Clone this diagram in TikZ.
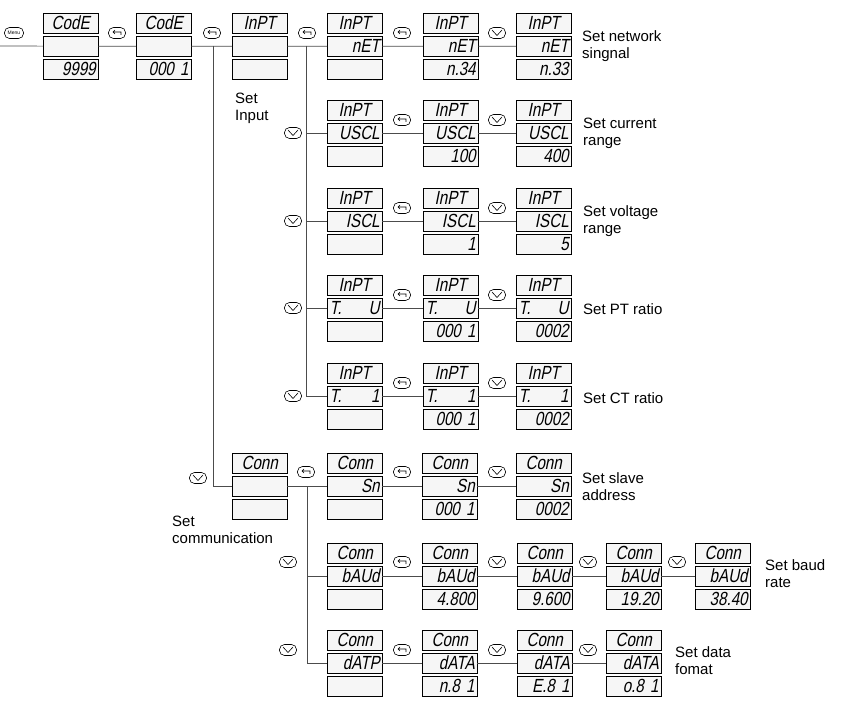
\documentclass[tikz,border=0pt]{standalone}
\usepackage{fontspec}
\setmainfont{Liberation Sans}
\newfontfamily\segf{Liberation Sans}[FakeSlant=0.2,FakeStretch=0.8]
\begin{document}
\begin{tikzpicture}[x=1pt,y=-1pt,
  seg/.style={draw=black,fill=gray!7,minimum width=55pt,minimum height=20pt,inner sep=1.5pt,anchor=north west,font=\fontsize{19}{19}\selectfont\segf},
  segt/.style={seg,text width=50pt,align=center},
  segr/.style={seg,text width=50pt,align=right},
  lbl/.style={anchor=west,align=left,font=\fontsize{15}{17}\selectfont,inner sep=0pt},
  ln/.style={line width=0.7pt,gray!60!black},
  key/.style={draw,rounded corners=5pt,minimum width=17pt,minimum height=11pt,inner sep=0pt,line width=0.6pt}]
\useasboundingbox (0,0) rectangle (841,708);
\newcommand\disp[6]{%
  \node[segt] (#1-t) at (#2,#3) {#4};
  \node[segr] (#1-m) at (#2,#3+23) {#5};
  \node[segr] (#1-b) at (#2,#3+46) {#6};}
\newcommand\entk[3]{\node[key] (#1) at (#2,#3) {};
  \draw[line width=0.6pt] ([xshift=4pt,yshift=-2pt]#1.center) -- ++(0,3pt) -- ++(-8pt,0) ++(2pt,-2pt) -- ++(-2pt,2pt) -- ++(2pt,2pt);}
\newcommand\downk[3]{\node[key] (#1) at (#2,#3) {};
  \draw[line width=0.6pt] ([xshift=-5pt,yshift=3pt]#1.center) -- ([yshift=-2.5pt]#1.center) -- ([xshift=5pt,yshift=3pt]#1.center);}
% row 1
\disp{a0}{43}{13}{CodE}{}{9999}
\disp{a1}{136}{13}{CodE}{}{000 1}
\disp{a2}{232}{13}{InPT}{}{}
\disp{a3}{327}{13}{InPT}{nET}{}
\disp{a4}{423}{13}{InPT}{nET}{n.34}
\disp{a5}{516}{13}{InPT}{nET}{n.33}
% row 2
\disp{b3}{327}{100}{InPT}{USCL}{}
\disp{b4}{423}{100}{InPT}{USCL}{100}
\disp{b5}{516}{100}{InPT}{USCL}{400}
% row 3
\disp{c3}{327}{188}{InPT}{ISCL}{}
\disp{c4}{423}{188}{InPT}{ISCL}{1}
\disp{c5}{516}{188}{InPT}{ISCL}{5}
% row 4
\disp{d3}{327}{275}{InPT}{T.\hfill U}{}
\disp{d4}{423}{275}{InPT}{T.\hfill U}{000 1}
\disp{d5}{516}{275}{InPT}{T.\hfill U}{0002}
% row 5
\disp{e3}{327}{363}{InPT}{T.\hfill 1}{}
\disp{e4}{423}{363}{InPT}{T.\hfill 1}{000 1}
\disp{e5}{516}{363}{InPT}{T.\hfill 1}{0002}
% row 6
\disp{f2}{232}{453}{Conn}{}{}
\disp{f3}{327}{453}{Conn}{Sn}{}
\disp{f4}{422}{453}{Conn}{Sn}{000 1}
\disp{f5}{516}{453}{Conn}{Sn}{0002}
% row 7
\disp{g3}{327}{543}{Conn}{bAUd}{}
\disp{g4}{422}{543}{Conn}{bAUd}{4.800}
\disp{g5}{517}{543}{Conn}{bAUd}{9.600}
\disp{g6}{606}{543}{Conn}{bAUd}{19.20}
\disp{g7}{695}{543}{Conn}{bAUd}{38.40}
% row 8
\disp{h3}{327}{630}{Conn}{dATP}{}
\disp{h4}{422}{630}{Conn}{dATA}{n.8 1}
\disp{h5}{517}{630}{Conn}{dATA}{E.8 1}
\disp{h6}{606}{630}{Conn}{dATA}{o.8 1}
% connectors
\coordinate (start) at (0,46);
\coordinate (j1) at (213,46);
\coordinate (j2) at (306,46);
\coordinate (j3) at (307,486);
\draw[ln] (start) -- (a0-m) (a0-m) -- (a1-m) (a1-m) -- (a2-m) (a2-m) -- (a3-m) (a3-m) -- (a4-m) (a4-m) -- (a5-m);
\draw[ln] (b3-m) -- (b4-m) (b4-m) -- (b5-m) (c3-m) -- (c4-m) (c4-m) -- (c5-m)
  (d3-m) -- (d4-m) (d4-m) -- (d5-m) (e3-m) -- (e4-m) (e4-m) -- (e5-m);
\draw[ln] (f2-m) -- (f3-m) (f3-m) -- (f4-m) (f4-m) -- (f5-m);
\draw[ln] (g3-m) -- (g4-m) (g4-m) -- (g5-m) (g5-m) -- (g6-m) (g6-m) -- (g7-m);
\draw[ln] (h3-m) -- (h4-m) (h4-m) -- (h5-m) (h5-m) -- (h6-m);
\draw[ln] (j1) |- (f2-m);
\draw[ln] (j2) |- (e3-m) (j2) |- (b3-m) (j2) |- (c3-m) (j2) |- (d3-m);
\draw[ln] (j3) |- (h3-m) (j3) |- (g3-m);
% keys
\node[key,minimum width=19pt,font=\fontsize{5}{5}\selectfont] (menu) at (14,33) {Menu};
\entk{k1}{117}{33}\entk{k2}{212}{33}\entk{k3}{307}{33}\entk{k4}{402}{33}\downk{k5}{497}{33}
\downk{k6}{293}{133}\entk{k7}{402}{120}\downk{k8}{497}{120}
\downk{k9}{293}{221}\entk{k10}{402}{208}\downk{k11}{497}{208}
\downk{k12}{293}{308}\entk{k13}{402}{295}\downk{k14}{497}{295}
\downk{k15}{293}{396}\entk{k16}{402}{383}\downk{k17}{497}{383}
\downk{k18}{198}{478}\entk{k19}{306}{472}\entk{k20}{402}{472}\downk{k21}{497}{472}
\downk{k22}{288}{562}\entk{k23}{402}{562}\downk{k24}{497}{562}\downk{k25}{588}{562}\downk{k26}{677}{562}
\downk{k27}{288}{650}\entk{k28}{402}{650}\downk{k29}{497}{650}\downk{k30}{588}{650}
% labels
\node[lbl] (l1) at (582,46) {Set network\\singnal};
\node[lbl] (l2) at (583,133) {Set current\\range};
\node[lbl] (l3) at (583,221) {Set voltage\\range};
\node[lbl] (l4) at (583,309) {Set PT ratio};
\node[lbl] (l5) at (583,398) {Set CT ratio};
\node[lbl] (l6) at (582,487) {Set slave\\address};
\node[lbl] (l7) at (765,574) {Set baud\\rate};
\node[lbl] (l8) at (675,661) {Set data\\fomat};
\node[lbl] (l9) at (235,108) {Set\\Input};
\node[lbl] (l10) at (172,530) {Set\\communication};
\end{tikzpicture}
\end{document}
